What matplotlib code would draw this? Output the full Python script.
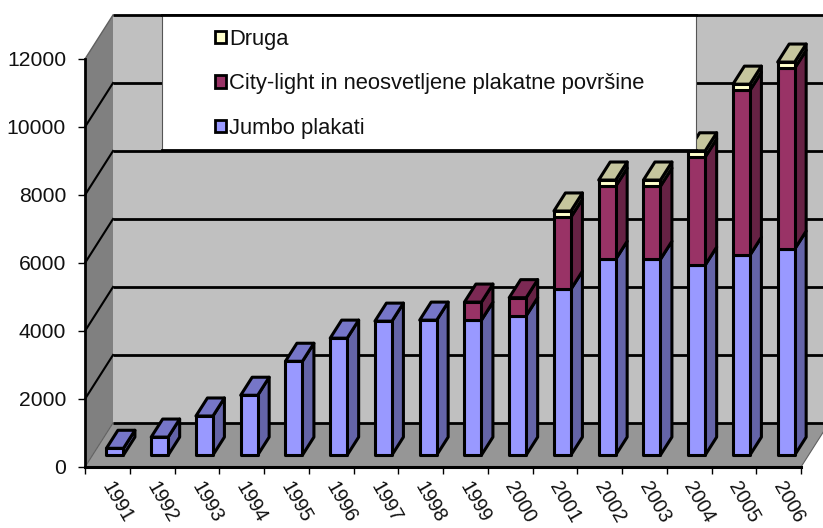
import matplotlib
matplotlib.use('Agg')
from matplotlib import pyplot as plt
from matplotlib.patches import Patch, Polygon, Rectangle

# Podatki
leta = ['1991', '1992', '1993', '1994', '1995', '1996', '1997', '1998',
        '1999', '2000', '2001', '2002', '2003', '2004', '2005', '2006']
jumbo = [200, 530, 1150, 1760, 2760, 3440, 3940, 3970,
         3970, 4100, 4880, 5760, 5760, 5590, 5880, 6060]
city = [0, 0, 0, 0, 0, 0, 0, 0,
        530, 530, 2120, 2150, 2150, 3180, 4850, 5320]
druga = [0, 0, 0, 0, 0, 0, 0, 0,
         0, 0, 180, 180, 180, 180, 180, 180]
y_ticks = [0, 2000, 4000, 6000, 8000, 10000, 12000]

imena = ['Jumbo plakati', 'City-light in neosvetljene plakatne površine', 'Druga']
# barve: spredaj, zgoraj, stran
barve = [('#9999FF', '#7676C8', '#6464A8'),
         ('#993366', '#7C2954', '#662244'),
         ('#FFFFCC', '#C6C69E', '#A8A888')]

# Pixel scale of the reference
PX_X = 44.75
PX_Y = 0.034
DX = 28 / PX_X      # depth of the box
DY = 44 / PX_Y
SIRINA = 17 / PX_X  # bar width
D_ZACETEK = 0.27    # where bars sit inside the depth
D_KONEC = 0.68

plt.rcParams['font.family'] = ['Liberation Sans', 'DejaVu Sans']

fig = plt.figure(figsize=(8.23, 5.28), dpi=100)
ax = fig.add_axes([0, 0, 1, 1])
ax.set_xlim(-85 / PX_X, 738 / PX_X)
ax.set_ylim(-61 / PX_Y, 467 / PX_Y)

n = len(leta)
y_max = y_ticks[-1]

# Stene
ax.add_patch(Polygon([(DX, DY), (n + DX, DY), (n + DX, y_max + DY), (DX, y_max + DY)],
                     fc='#C0C0C0', ec='none', zorder=1))
ax.add_patch(Polygon([(0, 0), (DX, DY), (DX, y_max + DY), (0, y_max)],
                     fc='#808080', ec='none', zorder=1))
ax.add_patch(Polygon([(0, 0), (n, 0), (n + DX, DY), (DX, DY)],
                     fc='#969696', ec='none', zorder=1))
ax.plot([n, n + DX], [0, DY], color='#606060', lw=0.8, zorder=1.5)
ax.plot([0, DX], [0, DY], color='#606060', lw=0.8, zorder=1.5)

# Mreza
for v in y_ticks:
    barva = '#606060' if v == y_max else 'black'
    if v > 0:
        ax.plot([0, DX], [v, v + DY], color=barva, lw=1.5 if v < y_max else 1, zorder=2)
    ax.plot([DX, n + DX], [v + DY, v + DY], color='black', lw=2, zorder=2,
            solid_capstyle='butt')


def kvader(x0, spodaj, zgoraj, barva, s_pokrovom):
    x1 = x0 + SIRINA
    dx = DX * (D_KONEC - D_ZACETEK)
    dy = DY * (D_KONEC - D_ZACETEK)
    ox = DX * D_ZACETEK
    oy = DY * D_ZACETEK
    opcije = dict(ec='black', lw=2.2, joinstyle='round', zorder=3)
    ax.add_patch(Polygon([(x1 + ox, spodaj + oy), (x1 + ox + dx, spodaj + oy + dy),
                          (x1 + ox + dx, zgoraj + oy + dy), (x1 + ox, zgoraj + oy)],
                         fc=barva[2], **opcije))
    if s_pokrovom:
        ax.add_patch(Polygon([(x0 + ox, zgoraj + oy), (x1 + ox, zgoraj + oy),
                              (x1 + ox + dx, zgoraj + oy + dy), (x0 + ox + dx, zgoraj + oy + dy)],
                             fc=barva[1], **opcije))
    ax.add_patch(Rectangle((x0 + ox, spodaj + oy), SIRINA, zgoraj - spodaj,
                           fc=barva[0], **opcije))


# Stolpci
for i in range(n):
    x0 = i + 0.5 - SIRINA / 2
    deli = [v for v in zip((jumbo[i], city[i], druga[i]), barve) if v[0] > 0]
    spodaj = 0
    for j, (v, barva) in enumerate(deli):
        kvader(x0, spodaj, spodaj + v, barva, j == len(deli) - 1)
        spodaj += v

# Osi
for s in ['top', 'right']:
    ax.spines[s].set_visible(False)
ax.spines['left'].set_position(('data', 0))
ax.spines['left'].set_bounds(0, y_max)
ax.spines['bottom'].set_position(('data', 0))
ax.spines['bottom'].set_bounds(0, n)
ax.spines['left'].set_linewidth(2)
ax.spines['bottom'].set_linewidth(2.2)
ax.spines['left'].set_zorder(2.5)
ax.spines['bottom'].set_zorder(2.5)
ax.set_yticks(y_ticks)
ax.set_xticks(range(n + 1))
ax.set_xticklabels([])
ax.set_xticks([i + 0.66 for i in range(n)], minor=True)
ax.set_xticklabels(leta, minor=True, rotation=-60, ha='left', va='top',
                   rotation_mode='anchor', fontsize=14.2, color='#111111')
ax.tick_params(axis='x', which='major', length=5, width=1)
ax.tick_params(axis='x', which='minor', length=0, pad=8)
ax.tick_params(axis='y', length=5, width=1, labelsize=15.2, pad=8.6, labelcolor='#111111')

# Legenda
ax.add_patch(Rectangle((162 / 823, 1 - 150 / 528), 534 / 823, 135 / 528, transform=ax.transAxes,
                       fc='white', ec='#555555', lw=0.8, zorder=5))
ax.plot([162 / 823, 696 / 823], [1 - 150 / 528, 1 - 150 / 528], transform=ax.transAxes,
        color='black', lw=2, zorder=5.5)
ax.plot([162 / 823, 696 / 823], [1 - 15 / 528, 1 - 15 / 528], transform=ax.transAxes,
        color='black', lw=2, zorder=5.5)
znaki = [Patch(fc=barve[k][0], ec='black', lw=2) for k in (2, 1, 0)]
leg = ax.legend(znaki, [imena[k] for k in (2, 1, 0)], loc='upper left',
                bbox_to_anchor=(208 / 823, 1 - 22 / 528), frameon=False, fontsize=15.8,
                handlelength=0.5, handleheight=0.5, handletextpad=0.15,
                labelspacing=1.07, borderpad=0.3, borderaxespad=0, labelcolor='#111111')
leg.set_zorder(6)

fig.savefig('out.png', dpi=100)
